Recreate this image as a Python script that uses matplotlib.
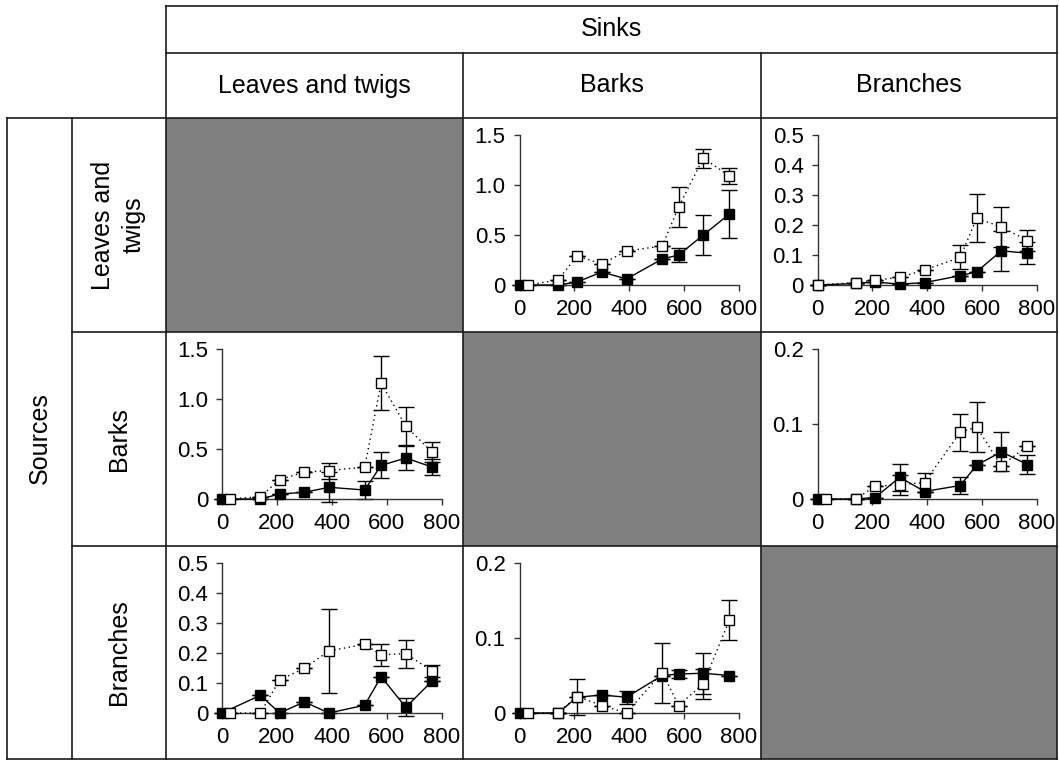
import matplotlib
matplotlib.use("Agg")
import matplotlib.pyplot as plt
from matplotlib.patches import Rectangle
from matplotlib.ticker import FuncFormatter

plt.rcParams['font.family'] = ['Liberation Sans', 'DejaVu Sans']

# ---------------- data ----------------
sink_labels = ["Leaves and twigs", "Barks", "Branches"]
source_labels = ["Leaves and\ntwigs", "Barks", "Branches"]
header_label = "Sinks"
side_label = "Sources"
x_ticks = [0, 200, 400, 600, 800]

days_filled = [0, 140, 210, 300, 390, 520, 580, 670, 765]
days_open = [30, 140, 210, 300, 390, 520, 580, 670, 765]
days_open_b = [0, 140, 210, 300, 390, 520, 580, 670, 765]

# Leaves and twigs -> Barks
lt_ba_filled = [0, 0, 0.03, 0.13, 0.06, 0.26, 0.30, 0.50, 0.71]
lt_ba_filled_err = [0, 0, 0, 0, 0, 0, 0.07, 0.20, 0.24]
lt_ba_open = [0, 0.05, 0.29, 0.21, 0.34, 0.39, 0.78, 1.27, 1.09]
lt_ba_open_err = [0, 0, 0, 0, 0, 0, 0.20, 0.095, 0.085]
lt_ba_yticks = [0, 0.5, 1.0, 1.5]

# Leaves and twigs -> Branches
lt_br_filled = [0, 0.005, 0.01, 0.003, 0.008, 0.031, 0.044, 0.114, 0.106]
lt_br_filled_err = [0, 0, 0, 0, 0, 0, 0, 0.066, 0.037]
lt_br_open = [0, 0.008, 0.016, 0.026, 0.05, 0.092, 0.222, 0.194, 0.148]
lt_br_open_err = [0, 0, 0, 0, 0, 0.04, 0.08, 0.067, 0.035]
lt_br_yticks = [0, 0.1, 0.2, 0.3, 0.4, 0.5]

# Barks -> Leaves and twigs
ba_lt_filled = [0, 0, 0.05, 0.067, 0.117, 0.09, 0.336, 0.41, 0.32]
ba_lt_filled_err = [0, 0, 0, 0, 0.15, 0.09, 0.13, 0.12, 0.08]
ba_lt_open = [0, 0.023, 0.195, 0.268, 0.285, 0.319, 1.158, 0.728, 0.47]
ba_lt_open_err = [0, 0, 0, 0, 0.08, 0, 0.27, 0.19, 0.10]
ba_lt_yticks = [0, 0.5, 1.0, 1.5]

# Barks -> Branches
ba_br_filled = [0, 0, 0.002, 0.029, 0.01, 0.018, 0.045, 0.063, 0.046]
ba_br_filled_err = [0, 0, 0, 0.018, 0, 0.011, 0, 0.026, 0.013]
ba_br_open = [0, 0, 0.017, 0.019, 0.022, 0.089, 0.096, 0.044, 0.071]
ba_br_open_err = [0, 0, 0, 0.013, 0.013, 0.025, 0.033, 0, 0]
ba_br_yticks = [0, 0.1, 0.2]

# Branches -> Leaves and twigs
br_lt_filled = [0, 0.059, 0, 0.037, 0, 0.026, 0.121, 0.019, 0.106]
br_lt_filled_err = [0, 0, 0, 0, 0, 0, 0, 0.03, 0]
br_lt_open = [0, 0, 0.11, 0.149, 0.207, 0.229, 0.194, 0.198, 0.14]
br_lt_open_err = [0, 0, 0, 0, 0.14, 0, 0.036, 0.047, 0.02]
br_lt_yticks = [0, 0.1, 0.2, 0.3, 0.4, 0.5]

# Branches -> Barks
br_ba_filled = [0, 0, 0.021, 0.024, 0.021, 0.05, 0.052, 0.053, 0.05]
br_ba_filled_err = [0, 0, 0, 0, 0.009, 0, 0.005, 0.027, 0]
br_ba_open = [0, 0, 0.022, 0.01, 0, 0.054, 0.01, 0.039, 0.124]
br_ba_open_err = [0, 0, 0.024, 0, 0, 0.04, 0, 0.02, 0.027]
br_ba_yticks = [0, 0.1, 0.2]

panels = {
    (0, 1): (days_open, lt_ba_filled, lt_ba_filled_err, lt_ba_open, lt_ba_open_err, lt_ba_yticks),
    (0, 2): (days_open_b, lt_br_filled, lt_br_filled_err, lt_br_open, lt_br_open_err, lt_br_yticks),
    (1, 0): (days_open, ba_lt_filled, ba_lt_filled_err, ba_lt_open, ba_lt_open_err, ba_lt_yticks),
    (1, 2): (days_open, ba_br_filled, ba_br_filled_err, ba_br_open, ba_br_open_err, ba_br_yticks),
    (2, 0): (days_open, br_lt_filled, br_lt_filled_err, br_lt_open, br_lt_open_err, br_lt_yticks),
    (2, 1): (days_open, br_ba_filled, br_ba_filled_err, br_ba_open, br_ba_open_err, br_ba_yticks),
}

# ---------------- layout (pixels) ----------------
W, H = 1059, 761
col_x = [165.5, 463, 761, 1057]
row_y = [118, 332, 546, 759]
x_outer, x_src = 7, 72
y_top, y_mid = 6, 53

fig = plt.figure(figsize=(W / 100, H / 100), dpi=100)
bg = fig.add_axes([0, 0, 1, 1])
bg.set_xlim(0, W)
bg.set_ylim(H, 0)
bg.axis('off')

grey = '#808080'
for i in range(3):
    bg.add_patch(Rectangle((col_x[i], row_y[i]), col_x[i + 1] - col_x[i],
                           row_y[i + 1] - row_y[i], facecolor=grey, edgecolor='none', zorder=1))

lc = '#1a1a1a'
lw = 1.2
def hline(y, x0, x1):
    bg.plot([x0, x1], [y, y], color=lc, lw=lw, zorder=3, solid_capstyle='projecting')
def vline(x, y0, y1):
    bg.plot([x, x], [y0, y1], color=lc, lw=lw, zorder=3, solid_capstyle='projecting')

hline(y_top, col_x[0], col_x[3])
hline(y_mid, col_x[0], col_x[3])
hline(row_y[0], x_outer, col_x[3])
hline(row_y[1], x_src, col_x[3])
hline(row_y[2], x_src, col_x[3])
hline(row_y[3], x_outer, col_x[3])
vline(x_outer, row_y[0], row_y[3])
vline(x_src, row_y[0], row_y[3])
vline(col_x[0], y_top, row_y[3])
vline(col_x[1], y_mid, row_y[3])
vline(col_x[2], y_mid, row_y[3])
vline(col_x[3], y_top, row_y[3])

hfs = 18
bg.text((col_x[0] + col_x[3]) / 2, (y_top + y_mid) / 2, header_label,
        ha='center', va='center', fontsize=hfs)
for i, lab in enumerate(sink_labels):
    bg.text((col_x[i] + col_x[i + 1]) / 2, (y_mid + row_y[0]) / 2, lab,
            ha='center', va='center', fontsize=hfs)
bg.text((x_outer + x_src) / 2, (row_y[0] + row_y[3]) / 2, side_label,
        ha='center', va='center', rotation=90, fontsize=hfs)
for i, lab in enumerate(source_labels):
    bg.text((x_src + col_x[0]) / 2, (row_y[i] + row_y[i + 1]) / 2, lab,
            ha='center', va='center', rotation=90, fontsize=hfs,
            multialignment='center', linespacing=1.35)

fmt = FuncFormatter(lambda v, p: "0" if abs(v) < 1e-9 else f"{v:.1f}")

for (r, c), (xo, yf, ef, yo, eo, yt) in panels.items():
    l = col_x[c] + 56.5
    rgt = col_x[c] + 276
    t = row_y[r] + 17
    b = row_y[r] + 167
    ax = fig.add_axes([l / W, 1 - b / H, (rgt - l) / W, (b - t) / H])
    ax.patch.set_alpha(0)
    ax.set_xlim(0, 800)
    ax.set_ylim(0, yt[-1])
    for s in ['top', 'right']:
        ax.spines[s].set_visible(False)
    for s in ['left', 'bottom']:
        ax.spines[s].set_color('#333333')
        ax.spines[s].set_linewidth(1.0)
    ax.set_xticks(x_ticks)
    ax.set_yticks(yt)
    ax.yaxis.set_major_formatter(fmt)
    ax.tick_params(direction='out', length=4, width=1, color='#333333',
                   labelsize=16, pad=6)
    # filled series
    ax.errorbar(days_filled, yf, yerr=ef, fmt='none', ecolor='black',
                elinewidth=1, capsize=6, capthick=1, clip_on=False, zorder=2)
    ax.plot(days_filled, yf, '-', color='black', lw=1, marker='s', ms=7.8,
            mfc='black', mec='black', mew=1, clip_on=False, zorder=3)
    # open series
    ax.errorbar(xo, yo, yerr=eo, fmt='none', ecolor='black',
                elinewidth=1, capsize=6, capthick=1, clip_on=False, zorder=4)
    ax.plot(xo, yo, linestyle=(0, (1, 2.5)), color='black', lw=1, marker='s',
            ms=7.8, mfc='white', mec='black', mew=1, clip_on=False, zorder=5)

fig.savefig('out.png', dpi=100)
